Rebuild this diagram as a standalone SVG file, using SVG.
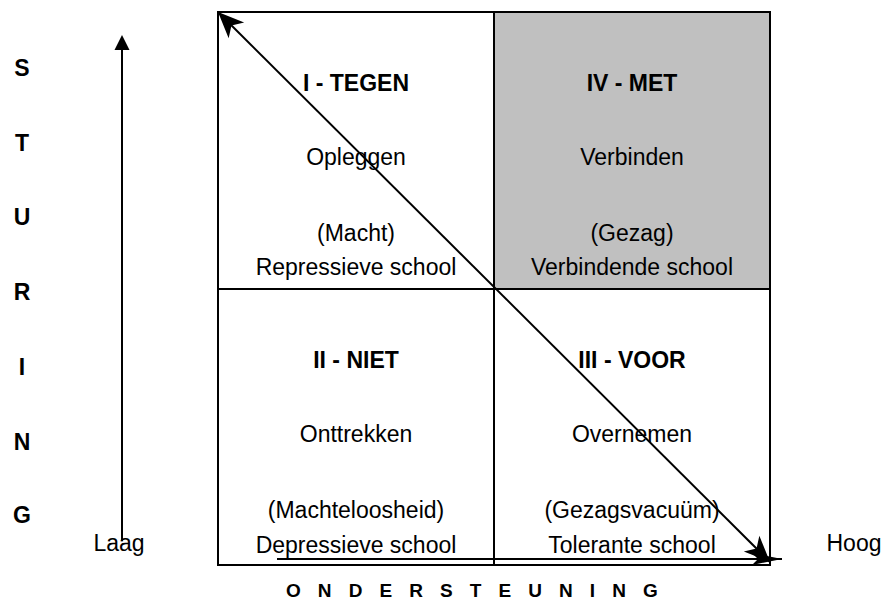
<svg xmlns="http://www.w3.org/2000/svg" width="888" height="601" viewBox="0 0 888 601">
<style>
.t{font-family:"Liberation Sans",Arial,sans-serif;font-size:23px;fill:#000;text-anchor:middle}
.b{font-weight:bold}
.grid{fill:none;stroke:#000;stroke-width:2}
.conn{fill:none;stroke:#000}
</style>
<defs>
<marker id="stealth" markerUnits="userSpaceOnUse" viewBox="-27 -13 28 26" refX="0" refY="0" markerWidth="28" markerHeight="26" orient="auto-start-reverse">
<path d="M0,0 L-26,-11 L-19,0 L-26,11 Z" fill="#000"/>
</marker>
<marker id="stealth2" markerUnits="userSpaceOnUse" viewBox="-31 -8 32 16" refX="0" refY="0" markerWidth="32" markerHeight="16" orient="auto">
<path d="M0,0 L-30,-6 L-24,0 L-30,6 Z" fill="#000"/>
</marker>
</defs>
<rect x="0" y="0" width="888" height="601" fill="#fff"/>
<rect x="494" y="12" width="276" height="277" fill="#c0c0c0"/>
<g id="grid">
<rect class="grid" x="218" y="12" width="552" height="553"/>
<line class="grid" x1="494" y1="12" x2="494" y2="565"/>
<line class="grid" x1="218" y1="289" x2="770" y2="289"/>
</g>
<g id="q1">
<text class="t b" x="356" y="91">I - TEGEN</text>
<text class="t" x="356" y="165">Opleggen</text>
<text class="t" x="356" y="241">(Macht)</text>
<text class="t" x="356" y="275">Repressieve school</text>
</g>
<g id="q4">
<text class="t b" x="632" y="91">IV - MET</text>
<text class="t" x="632" y="165">Verbinden</text>
<text class="t" x="632" y="241">(Gezag)</text>
<text class="t" x="632" y="275">Verbindende school</text>
</g>
<g id="q2">
<text class="t b" x="356" y="368">II - NIET</text>
<text class="t" x="356" y="442">Onttrekken</text>
<text class="t" x="356" y="518">(Machteloosheid)</text>
<text class="t" x="356" y="553">Depressieve school</text>
</g>
<g id="q3">
<text class="t b" x="632" y="368">III - VOOR</text>
<text class="t" x="632" y="442">Overnemen</text>
<text class="t" x="632" y="518">(Gezagsvacuüm)</text>
<text class="t" x="632" y="553">Tolerante school</text>
</g>
<g id="sturing">
<text class="t b" x="22" y="76">S</text>
<text class="t b" x="22" y="151">T</text>
<text class="t b" x="22" y="225">U</text>
<text class="t b" x="22" y="300">R</text>
<text class="t b" x="22" y="375">I</text>
<text class="t b" x="22" y="450">N</text>
<text class="t b" x="22" y="523">G</text>
</g>
<g id="labels">
<text class="t" x="119" y="551">Laag</text>
<text class="t" x="854" y="551">Hoog</text>
<text class="t b" x="286" y="597" style="font-size:19px;text-anchor:start;letter-spacing:5.9px">O N D E R S T E U N I N G</text>
</g>
<g id="connectors">
<line class="conn" x1="218" y1="12" x2="770" y2="562" stroke-width="2" marker-start="url(#stealth)" marker-end="url(#stealth)"/>
<line class="conn" x1="277" y1="559" x2="782" y2="559" stroke-width="2" marker-end="url(#stealth2)"/>
<line class="conn" x1="122" y1="541" x2="122" y2="48" stroke-width="2"/>
<path d="M122,35 L114.5,50 L129.5,50 Z" fill="#000"/>
</g>
</svg>
